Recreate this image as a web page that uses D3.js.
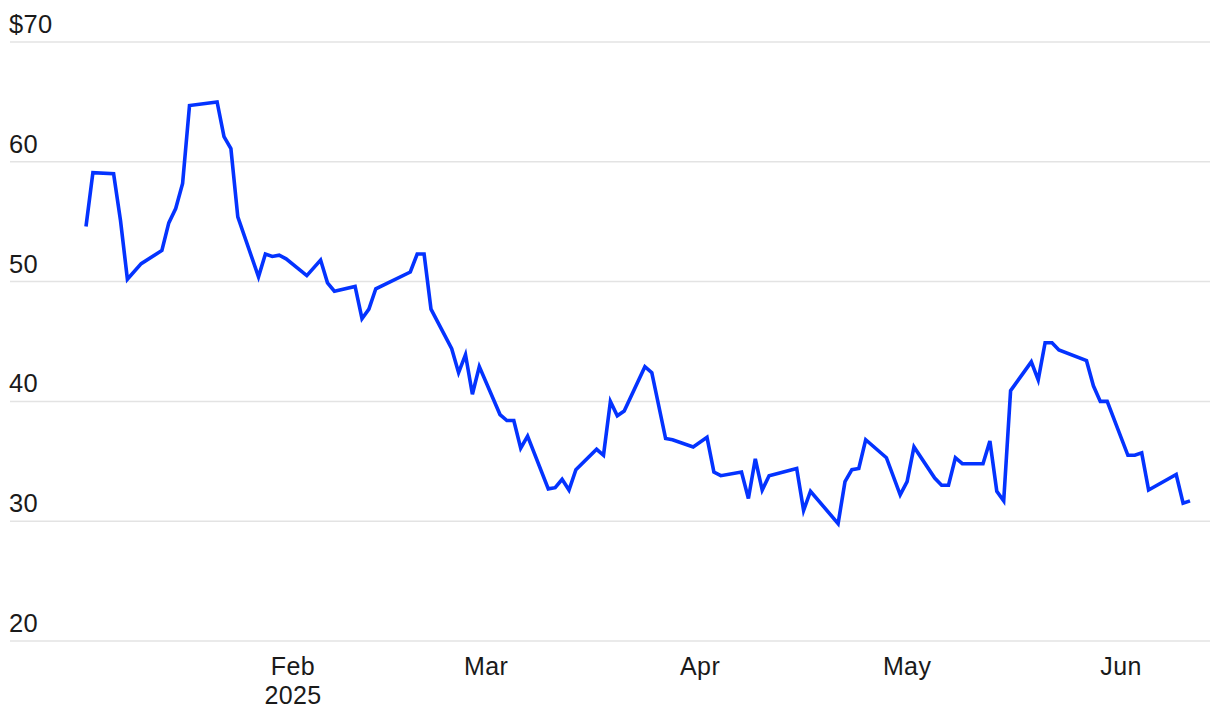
<!DOCTYPE html>
<meta charset="utf-8">
<script src="https://d3js.org/d3.v7.min.js"></script>
<style>
  body { margin: 0; background: #fff; }
  text { font-family: "Liberation Sans", Arial, sans-serif; fill: #1a1a1a; }
</style>
<body>
<script>
// closing prices
var dates = [
  "2025-01-02","2025-01-03","2025-01-06","2025-01-07","2025-01-08","2025-01-10",
  "2025-01-13","2025-01-14","2025-01-15","2025-01-16","2025-01-17","2025-01-21",
  "2025-01-22","2025-01-23","2025-01-24","2025-01-27","2025-01-28","2025-01-29",
  "2025-01-30","2025-01-31","2025-02-03","2025-02-05","2025-02-06","2025-02-07",
  "2025-02-10","2025-02-11","2025-02-12","2025-02-13","2025-02-18","2025-02-19",
  "2025-02-20","2025-02-21","2025-02-24","2025-02-25","2025-02-26","2025-02-27",
  "2025-02-28","2025-03-03","2025-03-04","2025-03-05","2025-03-06","2025-03-07",
  "2025-03-10","2025-03-11","2025-03-12","2025-03-13","2025-03-14","2025-03-17",
  "2025-03-18","2025-03-19","2025-03-20","2025-03-21","2025-03-24","2025-03-25",
  "2025-03-27","2025-03-28","2025-03-31","2025-04-02","2025-04-03","2025-04-04",
  "2025-04-07","2025-04-08","2025-04-09","2025-04-10","2025-04-11","2025-04-15",
  "2025-04-16","2025-04-17","2025-04-21","2025-04-22","2025-04-23","2025-04-24",
  "2025-04-25","2025-04-28","2025-04-30","2025-05-01","2025-05-02","2025-05-05",
  "2025-05-06","2025-05-07","2025-05-08","2025-05-09","2025-05-12","2025-05-13",
  "2025-05-14","2025-05-15","2025-05-16","2025-05-19","2025-05-20","2025-05-21",
  "2025-05-22","2025-05-23","2025-05-27","2025-05-28","2025-05-29","2025-05-30",
  "2025-06-02","2025-06-03","2025-06-04","2025-06-05","2025-06-09","2025-06-10",
  "2025-06-11"
];
var prices = [
  54.6, 59.1, 59.0, 55.1, 50.2, 51.5,
  52.6, 54.9, 56.1, 58.2, 64.7, 65.0,
  62.1, 61.1, 55.4, 50.4, 52.3, 52.1,
  52.2, 51.9, 50.5, 51.8, 49.9, 49.2,
  49.6, 46.9, 47.7, 49.4, 50.8, 52.3,
  52.3, 47.7, 44.4, 42.4, 43.9, 40.6,
  42.9, 38.9, 38.4, 38.4, 36.1, 37.1,
  32.7, 32.8, 33.5, 32.6, 34.3, 36.0,
  35.5, 40.0, 38.8, 39.2, 42.9, 42.4,
  36.9, 36.8, 36.2, 37.0, 34.1, 33.8,
  34.1, 31.9, 35.2, 32.6, 33.8, 34.4,
  30.9, 32.5, 29.8, 33.3, 34.3, 34.4,
  36.8, 35.3, 32.2, 33.3, 36.2, 33.6,
  33.0, 33.0, 35.3, 34.8, 34.8, 36.7,
  32.5, 31.7, 40.9, 43.3, 41.8, 44.9,
  44.9, 44.3, 43.4, 41.3, 40.0, 40.0,
  35.5, 35.5, 35.7, 32.6, 33.9, 31.5,
  31.7
];
var yTicks = [20, 30, 40, 50, 60, 70];
var xTicks = ["2025-02-01","2025-03-01","2025-04-01","2025-05-01","2025-06-01"];
var xTickLabels = [["Feb","2025"],["Mar"],["Apr"],["May"],["Jun"]];

var width = 1220, height = 720;
var parse = d3.timeParse("%Y-%m-%d");

var data = dates.map(function(d, i) { return { date: parse(d), value: prices[i] }; });

var svg = d3.select("body").append("svg")
    .attr("width", width)
    .attr("height", height);

// x scale pinned so Feb 1 sits at 293 and Jun 1 at 1121
var x = d3.scaleTime()
    .domain([parse("2025-02-01"), parse("2025-06-01")])
    .range([293, 1121]);

var y = d3.scaleLinear()
    .domain([20, 70])
    .range([641, 42]);

// grid
svg.append("g").selectAll("line")
  .data(yTicks)
  .enter().append("line")
    .attr("x1", 10).attr("x2", 1210)
    .attr("y1", function(d) { return y(d); })
    .attr("y2", function(d) { return y(d); })
    .style("stroke", "#e3e3e3")
    .style("stroke-width", 1.5);

svg.append("g").selectAll("text")
  .data(yTicks)
  .enter().append("text")
    .attr("x", 9)
    .attr("y", function(d) { return y(d) - 9; })
    .style("font-size", "25.5px")
    .style("letter-spacing", "0.3px")
    .text(function(d) { return d === 70 ? "$70" : d; });

// x labels
var xl = svg.append("g").selectAll("text")
  .data(xTicks)
  .enter().append("text")
    .attr("x", function(d) { return x(parse(d)); })
    .attr("y", 675)
    .attr("text-anchor", "middle")
    .style("font-size", "25px")
    .style("letter-spacing", "0.4px");

xl.selectAll("tspan")
  .data(function(d, i) { return xTickLabels[i]; })
  .enter().append("tspan")
    .attr("x", function() { return d3.select(this.parentNode).attr("x"); })
    .attr("dy", function(d, i) { return i === 0 ? 0 : 29; })
    .text(function(d) { return d; });

// price line
var line = d3.line()
    .x(function(d) { return x(d.date); })
    .y(function(d) { return y(d.value); });

svg.append("path")
    .datum(data)
    .attr("d", line)
    .style("fill", "none")
    .style("stroke", "#0433ff")
    .style("stroke-width", 3.6)
    .style("stroke-linejoin", "miter")
    .style("stroke-linecap", "butt");
</script>
</body>
